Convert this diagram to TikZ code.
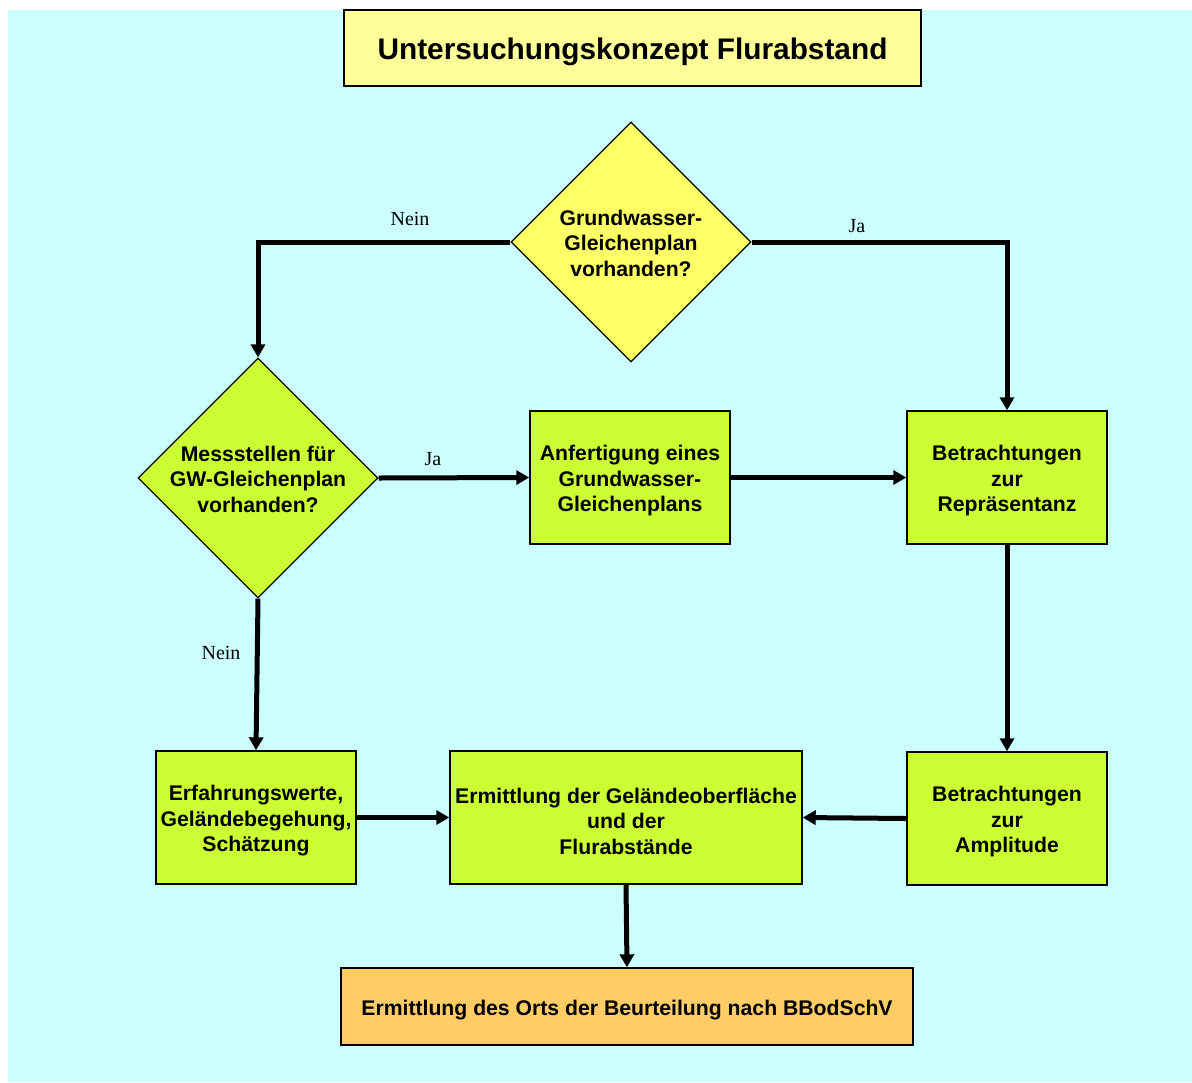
\documentclass[tikz,border=0pt]{standalone}
\usepackage{fontspec}
\setmainfont{Liberation Serif}
\setsansfont{Liberation Sans}
\usetikzlibrary{shapes.geometric,arrows.meta}
\definecolor{bgcyan}{HTML}{CCFFFF}
\definecolor{titleyellow}{HTML}{FFFF99}
\definecolor{diayellow}{HTML}{FFFF66}
\definecolor{boxgreen}{HTML}{CCFF33}
\definecolor{boxorange}{HTML}{FFCC66}
\tikzset{
  boxtext/.style={font=\sffamily\bfseries\fontsize{10.6}{12.75}\selectfont, align=center},
  procbox/.style={draw=black, line width=0.7pt, fill=boxgreen, minimum width=100pt, minimum height=66.5pt, inner sep=0pt},
  decision/.style={diamond, draw=black, line width=0.6pt, minimum width=120pt, minimum height=120pt, inner sep=0pt},
  conn/.style={line width=2.5pt, -{Triangle[length=6.5pt,width=7pt]}},
  lbl/.style={font=\rmfamily\fontsize{10}{12}\selectfont, inner sep=0pt},
  boxdown/.style={yshift=-1.75pt},
  diadown/.style={yshift=-0.6pt}
}
\begin{document}
\begin{tikzpicture}[x=0.5pt,y=-0.5pt]
\useasboundingbox (0,0) rectangle (1192,1082);
\fill[bgcyan] (8,10) rectangle (1192,1082);
% title
\node[draw=black, line width=0.7pt, fill=titleyellow, minimum width=288.5pt, minimum height=38pt, inner sep=0pt] (title) at (632.5,48) {};
\node[font=\sffamily\bfseries\fontsize{14.9}{18}\selectfont, yshift=-2pt] (titlet) at (title.center) {Untersuchungskonzept Flurabstand};
% decisions
\node[decision, fill=diayellow] (d1) at (631,242) {};
\node[boxtext, diadown] (d1t) at (d1.center) {Grundwasser-\\Gleichenplan\\vorhanden?};
\node[decision, fill=boxgreen] (d2) at (258,478) {};
\node[boxtext, diadown] (d2t) at (d2.center) {Messstellen für\\GW-Gleichenplan\\vorhanden?};
% boxes
\node[procbox] (anf) at (630,477.5) {};
\node[boxtext, boxdown] (anft) at (anf.center) {Anfertigung eines\\Grundwasser-\\Gleichenplans};
\node[procbox] (rep) at (1007,477.5) {};
\node[boxtext, boxdown] (rept) at (rep.center) {Betrachtungen\\zur\\Repräsentanz};
\node[procbox] (erf) at (256,817.5) {};
\node[boxtext, boxdown] (erft) at (erf.center) {Erfahrungswerte,\\Geländebegehung,\\Schätzung};
\node[procbox, minimum width=176pt] (gel) at (626,817.5) {};
\node[boxtext, boxdown] (gelt) at (gel.center) {Ermittlung der Geländeoberfläche\\und der\\Flurabstände};
\node[procbox] (amp) at (1007,818.5) {};
\node[boxtext, boxdown] (ampt) at (amp.center) {Betrachtungen\\zur\\Amplitude};
\node[procbox, fill=boxorange, minimum width=286pt, minimum height=38.5pt] (ort) at (627,1006.5) {};
\node[boxtext, boxdown] (ortt) at (ort.center) {Ermittlung des Orts der Beurteilung nach BBodSchV};
% connectors
\draw[conn] (d1.west) -| (d2.north);
\draw[conn] (d1.east) -| (rep.north);
\draw[conn] (d2.east) -- (anf.west);
\draw[conn] (anf.east) -- (rep.west);
\draw[conn] (rep.south) -- (amp.north);
\draw[conn] (d2.south) -- (erf.north);
\draw[conn] (erf.east) -- (gel.west);
\draw[conn] (amp.west) -- (gel.east);
\draw[conn] (gel.south) -- (ort.north);
% labels
\node[lbl] (l1) at (410,219) {Nein};
\node[lbl] (l2) at (857,226) {Ja};
\node[lbl] (l3) at (433,459) {Ja};
\node[lbl] (l4) at (221,653) {Nein};
\end{tikzpicture}
\end{document}
